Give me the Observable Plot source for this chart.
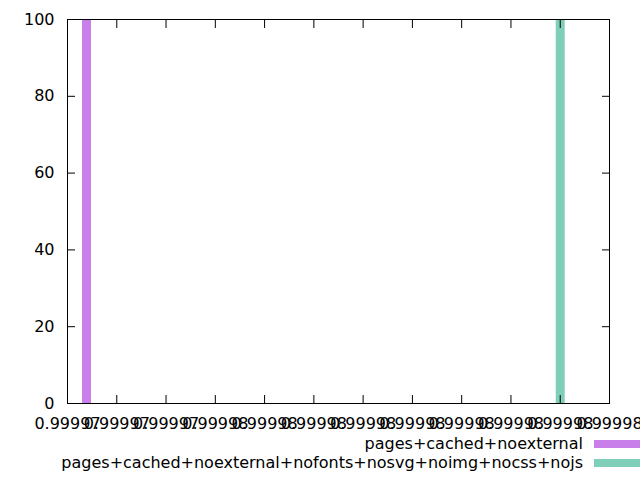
<!DOCTYPE html>
<html><head><meta charset="utf-8">
<script src="https://cdn.jsdelivr.net/npm/d3@7"></script>
<script src="https://cdn.jsdelivr.net/npm/@observablehq/plot@0.6"></script>
<style>
html,body{margin:0;padding:0;background:#fff;font-family:"DejaVu Sans",sans-serif;}
#chart svg{display:block;}
.legend{width:640px;margin-top:2px;font-size:16px;color:#000;}
.row{display:flex;justify-content:flex-end;align-items:center;height:19px;}
.row i{display:inline-block;width:46px;height:8px;margin-left:11px;}
</style></head><body><div id="chart"></div><div class="legend" id="legend"></div>
<script>
const seriesNames = ["pages+cached+noexternal", "pages+cached+noexternal+nofonts+nosvg+noimg+nocss+nojs"];
const seriesX = [0.9999723860, 0.9999820];
const seriesY = [100, 100];
const seriesColors = ["#c97fe9", "#7fceb9"];
const xTicks = [0.999972, 0.999973, 0.999974, 0.999975, 0.999976, 0.999977, 0.999978, 0.999979, 0.999980, 0.999981, 0.999982, 0.999983];
const xTickLabels = ["0.99997", "0.99997", "0.99997", "0.99998", "0.99998", "0.99998", "0.99998", "0.99998", "0.99998", "0.99998", "0.99998", "0.99998"];
const yTicks = [0, 20, 40, 60, 80, 100];

const data = seriesNames.map((name, i) => ({name, x: seriesX[i], y: seriesY[i]}));
const xLabel = d => xTickLabels[xTicks.findIndex(t => Math.abs(t - d) < 1e-10)];
const blank = () => "";

const plot = Plot.plot({
  width: 640, height: 432,
  marginTop: 19, marginBottom: 29, marginLeft: 67, marginRight: 31,
  style: {fontFamily: "DejaVu Sans", fontSize: "16px", background: "white", color: "black", overflow: "visible"},
  x: {domain: [xTicks[0], xTicks[xTicks.length - 1]], label: null},
  y: {domain: [0, 100], label: null},
  color: {domain: seriesNames, range: seriesColors},
  marks: [
    Plot.ruleX(data, {x: "x", y1: 0, y2: "y", stroke: "name", strokeWidth: 9}),
    Plot.axisX({anchor: "bottom", ticks: xTicks, tickFormat: xLabel, tickSize: 0, tickPadding: 14, fontSize: 16, label: null}),
    Plot.axisX({anchor: "bottom", ticks: xTicks, tickFormat: blank, tickSize: -8, label: null}),
    Plot.axisX({anchor: "top", ticks: xTicks, tickFormat: blank, tickSize: -8, label: null}),
    Plot.axisY({anchor: "left", ticks: yTicks, tickSize: 0, tickPadding: 13, fontSize: 16, label: null}),
    Plot.axisY({anchor: "left", ticks: yTicks, tickFormat: blank, tickSize: -8, label: null}),
    Plot.axisY({anchor: "right", ticks: yTicks, tickFormat: blank, tickSize: -8, label: null}),
    Plot.frame({stroke: "black"})
  ]
});
document.getElementById("chart").appendChild(plot);

const legend = document.getElementById("legend");
seriesNames.forEach((name, i) => {
  const row = document.createElement("div");
  row.className = "row";
  const s = document.createElement("span");
  s.textContent = name;
  const sw = document.createElement("i");
  sw.style.background = seriesColors[i];
  row.appendChild(s); row.appendChild(sw);
  legend.appendChild(row);
});
</script></body></html>
